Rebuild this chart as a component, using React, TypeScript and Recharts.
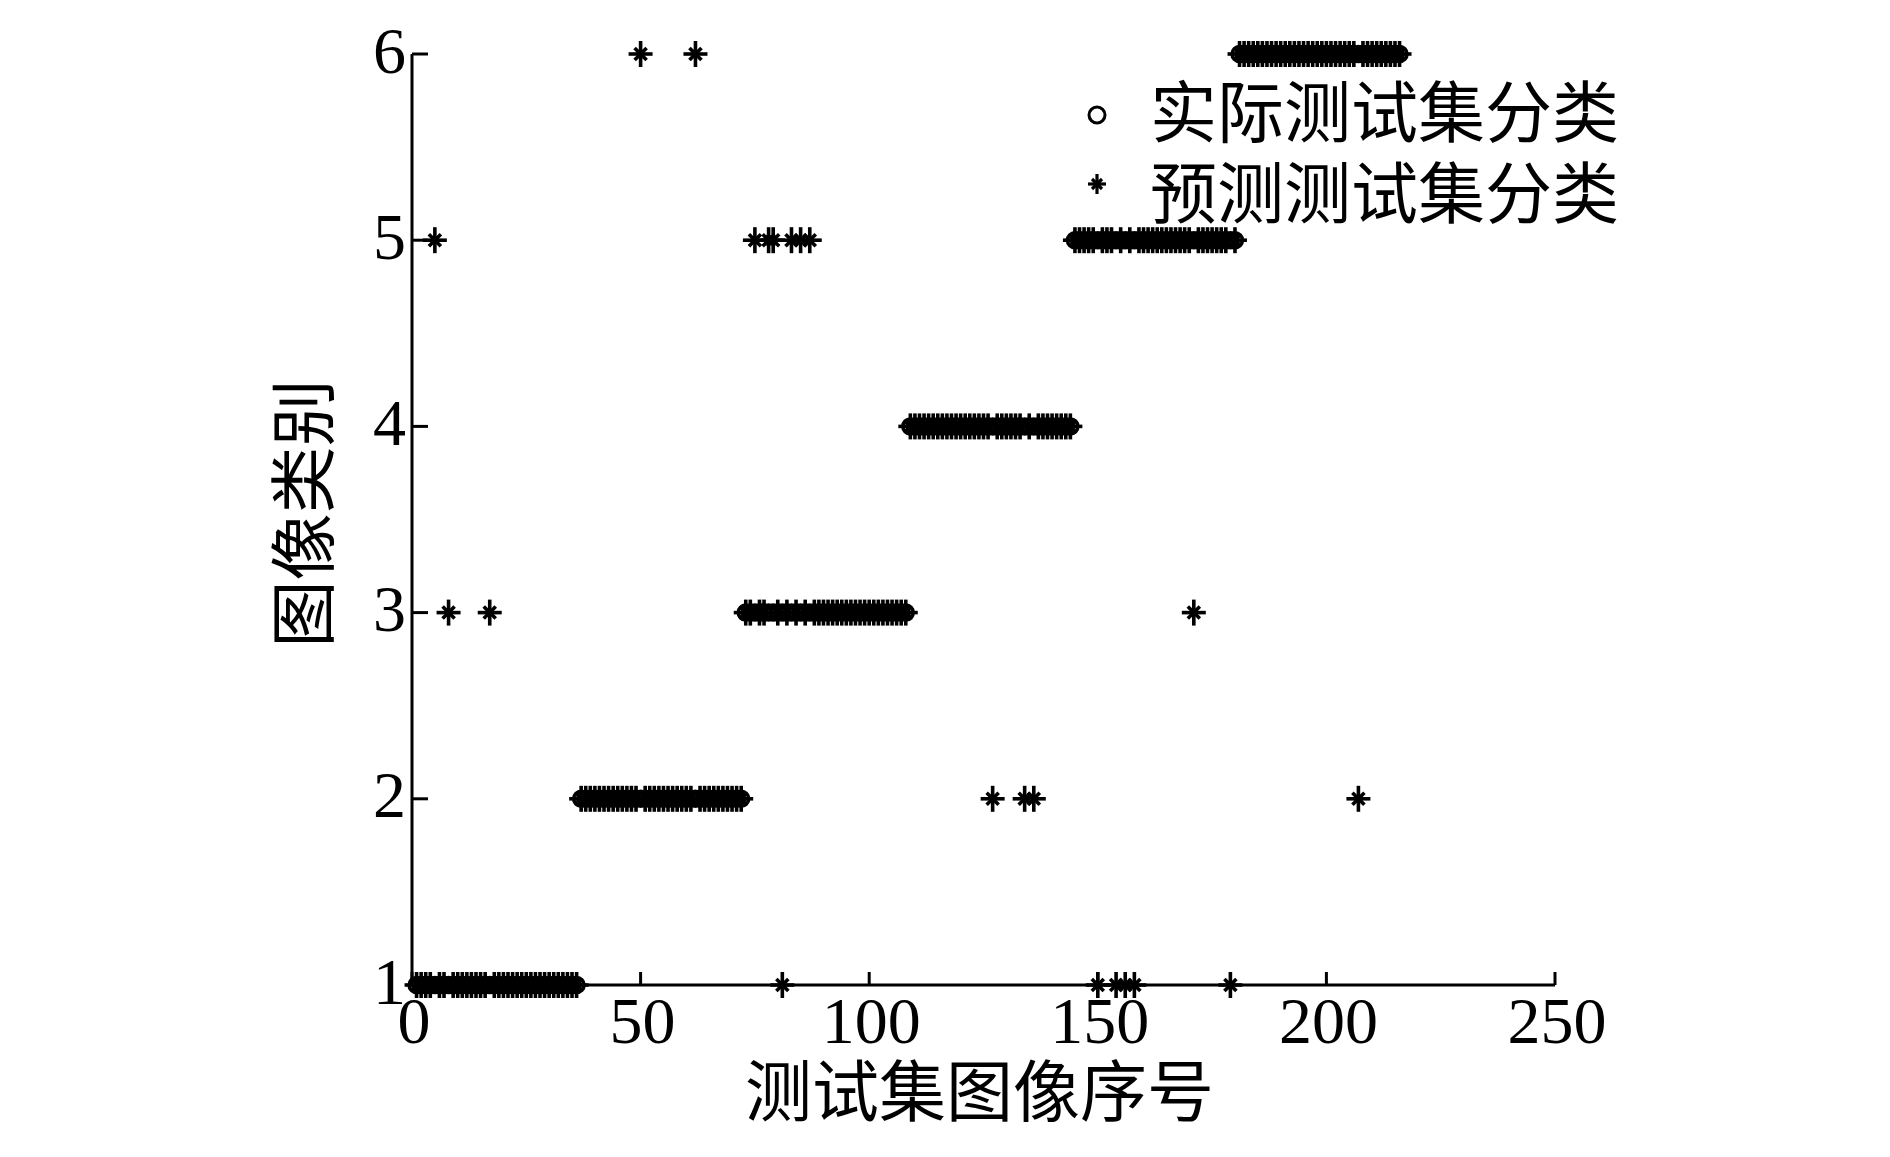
import { Legend, Scatter, ScatterChart, XAxis, YAxis } from "recharts";

const xTicks = [0, 50, 100, 150, 200, 250];
const yTicks = [1, 2, 3, 4, 5, 6];
const seriesNames = ["实际测试集分类", "预测测试集分类"];
const xAxisTitle = "测试集图像序号";
const yAxisTitle = "图像类别";

// true class of each test image (sample 1..216)
const actualClass = [
  1, 1, 1, 1, 1, 1, 1, 1, 1, 1, 1, 1, 1, 1, 1, 1, 1, 1, 1, 1, 1, 1, 1, 1, 1, 1, 1, 1, 1, 1, 1, 1, 1, 1, 1, 1,
  2, 2, 2, 2, 2, 2, 2, 2, 2, 2, 2, 2, 2, 2, 2, 2, 2, 2, 2, 2, 2, 2, 2, 2, 2, 2, 2, 2, 2, 2, 2, 2, 2, 2, 2, 2,
  3, 3, 3, 3, 3, 3, 3, 3, 3, 3, 3, 3, 3, 3, 3, 3, 3, 3, 3, 3, 3, 3, 3, 3, 3, 3, 3, 3, 3, 3, 3, 3, 3, 3, 3, 3,
  4, 4, 4, 4, 4, 4, 4, 4, 4, 4, 4, 4, 4, 4, 4, 4, 4, 4, 4, 4, 4, 4, 4, 4, 4, 4, 4, 4, 4, 4, 4, 4, 4, 4, 4, 4,
  5, 5, 5, 5, 5, 5, 5, 5, 5, 5, 5, 5, 5, 5, 5, 5, 5, 5, 5, 5, 5, 5, 5, 5, 5, 5, 5, 5, 5, 5, 5, 5, 5, 5, 5, 5,
  6, 6, 6, 6, 6, 6, 6, 6, 6, 6, 6, 6, 6, 6, 6, 6, 6, 6, 6, 6, 6, 6, 6, 6, 6, 6, 6, 6, 6, 6, 6, 6, 6, 6, 6, 6,
];

// predicted class of each test image
const predictedClass = [
  1, 1, 1, 1, 5, 1, 1, 3, 1, 1, 1, 1, 1, 1, 1, 1, 3, 1, 1, 1, 1, 1, 1, 1, 1, 1, 1, 1, 1, 1, 1, 1, 1, 1, 1, 1,
  2, 2, 2, 2, 2, 2, 2, 2, 2, 2, 2, 2, 2, 6, 2, 2, 2, 2, 2, 2, 2, 2, 2, 2, 2, 6, 2, 2, 2, 2, 2, 2, 2, 2, 2, 2,
  3, 3, 5, 3, 3, 5, 5, 3, 1, 3, 5, 3, 5, 3, 5, 3, 3, 3, 3, 3, 3, 3, 3, 3, 3, 3, 3, 3, 3, 3, 3, 3, 3, 3, 3, 3,
  4, 4, 4, 4, 4, 4, 4, 4, 4, 4, 4, 4, 4, 4, 4, 4, 4, 4, 2, 4, 4, 4, 4, 4, 4, 2, 4, 2, 4, 4, 4, 4, 4, 4, 4, 4,
  5, 5, 5, 5, 5, 1, 5, 5, 5, 1, 5, 1, 5, 1, 5, 5, 5, 5, 5, 5, 5, 5, 5, 5, 5, 5, 3, 5, 5, 5, 5, 5, 5, 5, 1, 5,
  6, 6, 6, 6, 6, 6, 6, 6, 6, 6, 6, 6, 6, 6, 6, 6, 6, 6, 6, 6, 6, 6, 6, 6, 6, 6, 2, 6, 6, 6, 6, 6, 6, 6, 6, 6,
];

const actualPoints = actualClass.map((c, i) => ({ index: i + 1, cls: c }));
const predictedPoints = predictedClass.map((c, i) => ({ index: i + 1, cls: c }));

const serif = "'Liberation Serif', 'Times New Roman', serif";
const cjk = "'Liberation Serif', 'Noto Sans CJK SC', serif";

function CircleMark(props: any) {
  const { cx, cy } = props;
  return <circle cx={cx} cy={cy} r={7.5} fill="none" stroke="#000" strokeWidth={3.5} />;
}

function StarMark(props: any) {
  const { cx, cy } = props;
  const s = 12;
  const d = 6;
  return (
    <g stroke="#000" strokeWidth={3.6}>
      <line x1={cx - s} y1={cy} x2={cx + s} y2={cy} />
      <line x1={cx} y1={cy - s - 1} x2={cx} y2={cy + s + 1} />
      <line x1={cx - d} y1={cy - d} x2={cx + d} y2={cy + d} />
      <line x1={cx - d} y1={cy + d} x2={cx + d} y2={cy - d} />
    </g>
  );
}

function XTick(props: any) {
  const { x, y, payload } = props;
  return (
    <g>
      <line x1={x} y1={y} x2={x} y2={y - 13} stroke="#000" strokeWidth={3} />
      <text x={x + 2} y={y + 35} textAnchor="middle" dominantBaseline="central" fontFamily={serif} fontSize={66} fill="#000">
        {payload.value}
      </text>
    </g>
  );
}

function YTick(props: any) {
  const { x, y, payload } = props;
  return (
    <g>
      <line x1={x} y1={y} x2={x + 16} y2={y} stroke="#000" strokeWidth={3} />
      <text x={x - 6} y={y - 4} textAnchor="end" dominantBaseline="central" fontFamily={serif} fontSize={66} fill="#000">
        {payload.value}
      </text>
    </g>
  );
}

function renderLegend() {
  const rowStyle = { display: "flex", alignItems: "center", height: 81 } as const;
  const textStyle = { fontFamily: cjk, fontSize: 67, color: "#000", marginLeft: 38, lineHeight: "67px" };
  return (
    <div>
      <div style={rowStyle}>
        <svg width={30} height={30}>
          <circle cx={15} cy={15} r={8} fill="none" stroke="#000" strokeWidth={3} />
        </svg>
        <span style={textStyle}>{seriesNames[0]}</span>
      </div>
      <div style={rowStyle}>
        <svg width={30} height={30} style={{ marginTop: -24 }}>
          <g stroke="#000" strokeWidth={3.2}>
            <line x1={6} y1={15} x2={24} y2={15} />
            <line x1={15} y1={5} x2={15} y2={25} />
            <line x1={10} y1={10} x2={20} y2={20} />
            <line x1={10} y1={20} x2={20} y2={10} />
          </g>
        </svg>
        <span style={textStyle}>{seriesNames[1]}</span>
      </div>
    </div>
  );
}

export default function App() {
  return (
    <div style={{ position: "absolute", left: 0, top: 0, width: 1890, height: 1157, background: "#fff" }}>
      <ScatterChart width={1890} height={1157} margin={{ top: 54, right: 335, bottom: 0, left: 0 }}>
        <XAxis
          type="number"
          dataKey="index"
          domain={[0, 250]}
          ticks={xTicks}
          height={172}
          axisLine={{ stroke: "#000", strokeWidth: 3 }}
          tickLine={false}
          tickSize={0}
          tickMargin={0}
          tick={<XTick />}
          interval={0}
          label={{
            content: (p: any) => (
              <text
                x={p.viewBox.x + p.viewBox.width / 2 - 4}
                y={p.viewBox.y + 108}
                textAnchor="middle"
                dominantBaseline="central"
                fontFamily={cjk}
                fontSize={67}
                fill="#000"
              >
                {xAxisTitle}
              </text>
            ),
          }}
        />
        <YAxis
          type="number"
          dataKey="cls"
          domain={[1, 6]}
          ticks={yTicks}
          width={412}
          axisLine={{ stroke: "#000", strokeWidth: 3 }}
          tickLine={false}
          tickSize={0}
          tickMargin={0}
          tick={<YTick />}
          interval={0}
          label={{
            content: (p: any) => {
              const cx = p.viewBox.x + 305;
              const cy = p.viewBox.y + p.viewBox.height / 2 - 6;
              return (
                <text
                  x={cx}
                  y={cy}
                  transform={`rotate(-90, ${cx}, ${cy})`}
                  textAnchor="middle"
                  dominantBaseline="central"
                  fontFamily={cjk}
                  fontSize={67}
                  fill="#000"
                >
                  {yAxisTitle}
                </text>
              );
            },
          }}
        />
        <Legend
          layout="horizontal"
          verticalAlign="middle"
          align="center"
          content={renderLegend}
          wrapperStyle={{ left: 1082, top: 74, width: "auto" }}
        />
        <Scatter name={seriesNames[0]} data={actualPoints} shape={<CircleMark />} isAnimationActive={false} />
        <Scatter name={seriesNames[1]} data={predictedPoints} shape={<StarMark />} isAnimationActive={false} />
      </ScatterChart>
    </div>
  );
}
